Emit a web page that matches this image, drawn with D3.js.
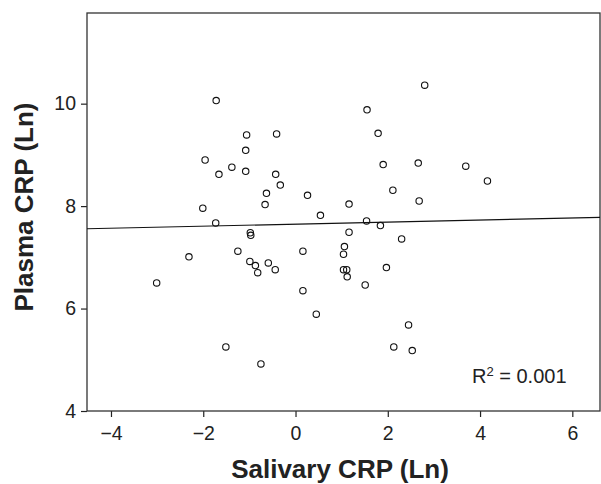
<!DOCTYPE html>
<html>
<head>
<meta charset="utf-8">
<script src="https://cdn.jsdelivr.net/npm/d3@7"></script>
<style>
  body { margin: 0; background: #fff; }
  svg { display: block; font-family: "Liberation Sans", Arial, sans-serif; }
</style>
</head>
<body>
<div id="chart"></div>
<script>
// Salivary CRP (Ln) per subject
const salivary = [
  -1.72, -1.06, -0.41, -1.08, -1.96, -1.38, -1.66, -1.08, -0.43, -0.33,
  -0.63, -0.66, -2.01, -1.73, 2.80, 1.55, 1.79, 1.90, 2.66, 3.69,
  4.16, 0.26, 2.11, 1.16, 2.68, 0.54, 1.54, 1.84, -0.98, -0.97,
  -1.25, -2.31, -3.01, -0.99, -0.87, -0.82, -0.59, -0.44, -1.51, -0.75,
  0.16, 0.16, 1.16, 2.30, 1.06, 1.04, 1.04, 1.11, 1.12, 1.97,
  1.51, 0.45, 2.45, 2.13, 2.53
];
// Plasma CRP (Ln) per subject
const plasma = [
  10.06, 9.39, 9.41, 9.09, 8.90, 8.76, 8.62, 8.68, 8.62, 8.41,
  8.25, 8.03, 7.96, 7.67, 10.36, 9.88, 9.42, 8.81, 8.84, 8.78,
  8.49, 8.21, 8.31, 8.04, 8.10, 7.82, 7.71, 7.62, 7.48, 7.43,
  7.12, 7.01, 6.50, 6.92, 6.84, 6.70, 6.89, 6.76, 5.25, 4.92,
  7.12, 6.35, 7.49, 7.36, 7.21, 7.06, 6.76, 6.76, 6.62, 6.80,
  6.46, 5.89, 5.68, 5.25, 5.18
];
const xTicks = [-4, -2, 0, 2, 4, 6];
const yTicks = [4, 6, 8, 10];
// fitted line
const fitIntercept = 7.648;
const fitSlope = 0.02;
const r2Label = "0.001";

const W = 601, H = 484;
const margin = { top: 13, right: 1, bottom: 73, left: 87 };
const width = W - margin.left - margin.right;
const height = H - margin.top - margin.bottom;

const svg = d3.select("#chart").append("svg")
  .attr("width", W)
  .attr("height", H);

const g = svg.append("g")
  .attr("transform", `translate(${margin.left},${margin.top})`);

const x = d3.scaleLinear().domain([-4.52, 6.6]).range([0, width]);
const y = d3.scaleLinear().domain([4, 11.77]).range([height, 0]);

// x axis
const xAxis = g.append("g")
  .attr("transform", `translate(0,${height})`)
  .call(d3.axisBottom(x).tickValues(xTicks).tickSize(6).tickPadding(9)
    .tickFormat(d => d < 0 ? "\u2212" + Math.abs(d) : d));
xAxis.select(".domain").remove();
xAxis.selectAll("line").attr("stroke", "#222").attr("stroke-width", 1.2);
xAxis.selectAll("text").attr("font-size", 19.5).attr("fill", "#222")
  .attr("font-family", "Liberation Sans, Arial, sans-serif");

// y axis
const yAxis = g.append("g")
  .call(d3.axisLeft(y).tickValues(yTicks).tickSize(6).tickPadding(5));
yAxis.select(".domain").remove();
yAxis.selectAll("line").attr("stroke", "#222").attr("stroke-width", 1.2);
yAxis.selectAll("text").attr("font-size", 19.5).attr("fill", "#222")
  .attr("font-family", "Liberation Sans, Arial, sans-serif");

// frame
g.append("rect")
  .attr("x", 0).attr("y", 0)
  .attr("width", width).attr("height", height)
  .attr("fill", "none")
  .attr("stroke", "#333")
  .attr("stroke-width", 1.3);

// fit line
const xd = x.domain();
g.append("line")
  .attr("x1", x(xd[0])).attr("y1", y(fitIntercept + fitSlope * xd[0]))
  .attr("x2", x(xd[1])).attr("y2", y(fitIntercept + fitSlope * xd[1]))
  .attr("stroke", "#111")
  .attr("stroke-width", 1.2);

// points
const pts = salivary.map((s, i) => ({ s: s, p: plasma[i] }));
g.selectAll("circle.pt")
  .data(pts)
  .enter()
  .append("circle")
  .attr("class", "pt")
  .attr("cx", d => x(d.s))
  .attr("cy", d => y(d.p))
  .attr("r", 3.2)
  .attr("fill", "none")
  .attr("stroke", "#111")
  .attr("stroke-width", 1.1);

// R squared label
const r2 = g.append("text")
  .attr("x", 385)
  .attr("y", 370)
  .attr("font-size", 20)
  .attr("fill", "#222");
r2.append("tspan").text("R");
r2.append("tspan").attr("font-size", 13).attr("dy", -7).text("2");
r2.append("tspan").attr("dy", 7).text(" = " + r2Label);

// axis titles
svg.append("text")
  .attr("x", 340)
  .attr("y", 478)
  .attr("text-anchor", "middle")
  .attr("font-size", 26)
  .attr("font-weight", "bold")
  .attr("fill", "#222")
  .text("Salivary CRP (Ln)");

svg.append("text")
  .attr("transform", "translate(33,207) rotate(-90)")
  .attr("text-anchor", "middle")
  .attr("font-size", 26)
  .attr("font-weight", "bold")
  .attr("fill", "#222")
  .text("Plasma CRP (Ln)");
</script>
</body>
</html>
